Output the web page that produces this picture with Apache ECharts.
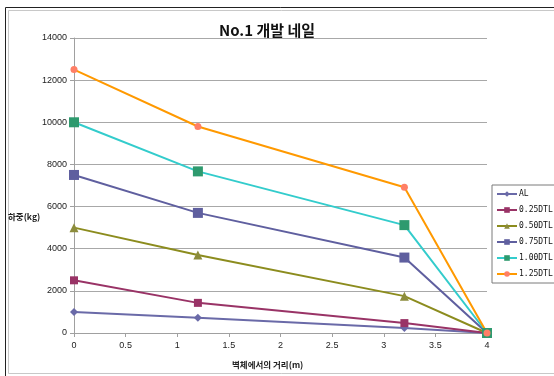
<!DOCTYPE html>
<html>
<head>
<meta charset="utf-8">
<script src="https://cdn.jsdelivr.net/npm/echarts@6/dist/echarts.min.js"></script>
<style>
  html, body { margin: 0; padding: 0; background: #ffffff; }
  #chart { width: 554px; height: 376px; }
</style>
</head>
<body>
<div id="chart"></div>
<script>
// Distance from the wall (m) at each measuring point
const distances = [0, 1.2, 3.2, 4];

// Load (kg) per series
const seriesNames = ['AL', '0.25DTL', '0.50DTL', '0.75DTL', '1.00DTL', '1.25DTL'];
const loadAL      = [1000, 720, 240, 0];
const load025DTL  = [2500, 1430, 470, 0];
const load050DTL  = [5000, 3700, 1750, 0];
const load075DTL  = [7500, 5700, 3580, 0];
const load100DTL  = [10000, 7670, 5120, 0];
const load125DTL  = [12500, 9800, 6920, 0];

const titleText = 'No.1 개발 네일';
const yAxisTitle = '하중(kg)';
const xAxisTitle = '벽체에서의 거리(m)';

const allLoads = [loadAL, load025DTL, load050DTL, load075DTL, load100DTL, load125DTL];

// Line colour, marker colour, marker shape and size per series
const styles = [
  { line: '#6a6aa8', marker: '#6a6aa8', symbol: 'diamond',  size: 8 },
  { line: '#993366', marker: '#993366', symbol: 'rect',     size: 8 },
  { line: '#8c8c1e', marker: '#8c8c3c', symbol: 'triangle', size: 9 },
  { line: '#5f5f9f', marker: '#5f5f9f', symbol: 'rect',     size: 10 },
  { line: '#33cccc', marker: '#2e9a6e', symbol: 'rect',     size: 10 },
  { line: '#ff9900', marker: '#ff7f66', symbol: 'circle',   size: 7 }
];

const chart = echarts.init(document.getElementById('chart'), null, { renderer: 'canvas' });

const tickFont = { fontFamily: 'Liberation Sans, Arial, sans-serif', fontSize: 9, color: '#222' };

const series = seriesNames.map((name, i) => ({
  name: name,
  type: 'line',
  data: distances.map((d, j) => [d, allLoads[i][j]]),
  symbol: styles[i].symbol,
  symbolSize: styles[i].size,
  showAllSymbol: true,
  lineStyle: { color: styles[i].line, width: 2 },
  itemStyle: { color: styles[i].marker, borderWidth: 0 },
  emphasis: { disabled: true },
  animation: false
}));

chart.setOption({
  backgroundColor: '#ffffff',
  animation: false,
  title: {
    text: titleText,
    left: 262,
    textAlign: 'center',
    top: 18,
    textStyle: { fontFamily: 'Noto Sans CJK KR, sans-serif', fontSize: 15, fontWeight: 'bold', color: '#111' }
  },
  grid: { left: 74, right: 67, top: 38, bottom: 43, containLabel: false },
  xAxis: {
    type: 'value',
    min: 0,
    max: 4,
    interval: 0.5,
    axisLine: { show: true, lineStyle: { color: '#a0a0a0', width: 1 } },
    axisTick: { show: true, length: 4, lineStyle: { color: '#a0a0a0' } },
    axisLabel: Object.assign({ margin: 8, formatter: (v) => String(v) }, tickFont),
    splitLine: { show: false }
  },
  yAxis: {
    type: 'value',
    min: 0,
    max: 14000,
    interval: 2000,
    axisLine: { show: true, onZero: false, lineStyle: { color: '#a0a0a0', width: 1 } },
    axisTick: { show: true, length: 4, lineStyle: { color: '#a0a0a0' } },
    axisLabel: Object.assign({ margin: 7, formatter: (v) => String(v) }, tickFont),
    splitLine: { show: true, lineStyle: { color: '#a8a8a8', width: 1 } }
  },
  legend: {
    orient: 'vertical',
    left: 492,
    top: 185,
    width: 60,
    padding: [4, 2, 4, 4],
    itemGap: 6,
    itemWidth: 20,
    itemHeight: 7,
    backgroundColor: '#ffffff',
    borderColor: '#7a7a7a',
    borderWidth: 1,
    textStyle: { fontFamily: 'DejaVu Sans Mono, monospace', fontSize: 8, lineHeight: 10, color: '#111', padding: [0, 0, 0, -3] },
    data: seriesNames
  },
  graphic: [
    // outer frame
    { type: 'rect', shape: { x: 5.5, y: 7.5, width: 560, height: 380 }, style: { fill: null, stroke: '#222', lineWidth: 1 }, silent: true, z: -1 },
    { type: 'rect', shape: { x: 8.5, y: 10.5, width: 550, height: 363 }, style: { fill: null, stroke: '#c8c8c8', lineWidth: 1 }, silent: true, z: -1 },
    // axis titles
    { type: 'text', left: 8, top: 213, style: { text: yAxisTitle, fontFamily: 'Noto Sans CJK KR, sans-serif', fontSize: 8.5, fontWeight: 'bold', fill: '#222' }, silent: true },
    { type: 'text', left: 232, top: 361, style: { text: xAxisTitle, fontFamily: 'Noto Sans CJK KR, sans-serif', fontSize: 8.5, fontWeight: 'bold', fill: '#222' }, silent: true }
  ],
  series: series
});
</script>
</body>
</html>
